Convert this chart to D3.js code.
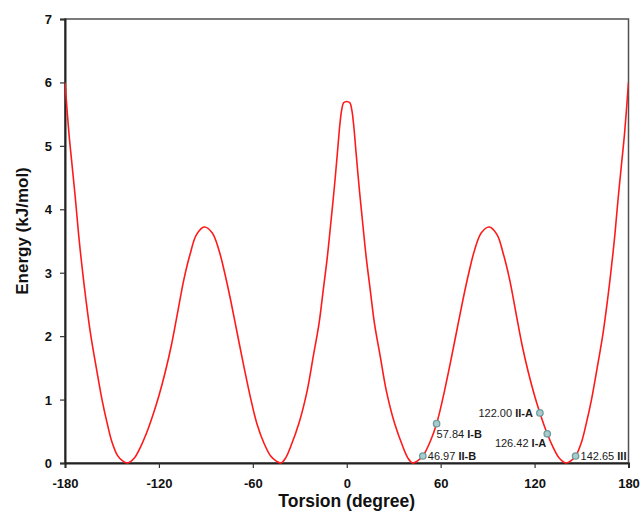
<!DOCTYPE html>
<html>
<head>
<meta charset="utf-8">
<script src="https://cdn.jsdelivr.net/npm/d3@7"></script>
<style>
  body { margin: 0; background: #fff; }
  svg { font-family: Arial, "Liberation Sans", sans-serif; }
</style>
</head>
<body>
<script>
let torsion = [-180,-177.5,-175.5,-173.3,-171.3,-169.1,-166.5,-163.7,-160,-156.3,-153,-150,-146.5,-143.5,-140,-136,-132,-128.1,-123.4,-120,-116,-112,-108,-104,-100,-96,-91,-86,-81.7,-78,-74.2,-70,-65.7,-61.5,-57.4,-53,-48.6,-45,-42,-39,-35.8,-30.5,-25.2,-21.4,-17.7,-15,-12.4,-10.2,-8.1,-6,-4.3,-3.2,-2,
               0,2,3.2,4.3,6,8.1,10.2,12.4,15,17.7,21.4,25.2,30.5,35.8,39,42,45,48.6,53,57.4,61.5,65.7,70,74.2,78,81.7,86,91,96,100,104,108,112,116,120,123.4,128.1,132,136,140,143.5,146.5,150,153,156.3,160,163.7,166.5,169.1,171.3,173.3,175.5,177.5,180];
let energy = [6.0,5.2,4.7,4.15,3.6,3.09,2.55,2.04,1.5,0.99,0.62,0.33,0.12,0.04,0,0.07,0.24,0.46,0.79,1.06,1.43,1.86,2.38,2.9,3.3,3.6,3.72,3.63,3.36,3.0,2.57,2.05,1.52,1.03,0.62,0.32,0.11,0.03,0,0.08,0.26,0.63,1.15,1.68,2.2,2.73,3.25,3.78,4.3,4.88,5.36,5.57,5.68,
              5.7,5.68,5.57,5.36,4.88,4.3,3.78,3.25,2.73,2.2,1.68,1.15,0.63,0.26,0.08,0,0.03,0.11,0.32,0.62,1.03,1.52,2.05,2.57,3.0,3.36,3.63,3.72,3.6,3.3,2.9,2.38,1.86,1.43,1.06,0.79,0.46,0.24,0.07,0,0.04,0.12,0.33,0.62,0.99,1.5,2.04,2.55,3.09,3.6,4.15,4.7,5.2,6.0];

// marked conformers
let markX = [48.6,57.4,123.4,128.1,146.2];
let markE = [0.11,0.62,0.79,0.46,0.11];
let markNum = ["46.97","57.84","122.00","126.42","142.65"];
let markForm = ["II-B","I-B","II-A","I-A","III"];
let markPos = ["right","below","left","belowleft","right"];

let xTicks = [-180,-120,-60,0,60,120,180];
let yTicks = [0,1,2,3,4,5,6,7];

let width = 640, height = 513;
let plotL = 65, plotR = 628.5, plotT = 19, plotB = 463;

let x = d3.scaleLinear().domain([-180,180]).range([plotL,plotR]);
let y = d3.scaleLinear().domain([0,7]).range([plotB,plotT]);

let svg = d3.select("body").append("svg").attr("width",width).attr("height",height);

svg.append("clipPath").attr("id","clip")
      .append("rect")
      .attr("x",plotL).attr("y",plotT)
      .attr("width",plotR-plotL).attr("height",plotB-plotT+1);

// frame
svg.append("rect")
      .attr("x",plotL).attr("y",plotT)
      .attr("width",plotR-plotL).attr("height",plotB-plotT)
      .attr("fill","none")
      .attr("stroke","#505050")
      .attr("stroke-width","1.5");

let xAxis = d3.axisBottom(x).tickValues(xTicks).tickSize(5).tickPadding(8).tickFormat(d => String(d));
let yAxis = d3.axisLeft(y).tickValues(yTicks).tickSize(5).tickPadding(8).tickFormat(d => String(d));

let gx = svg.append("g").attr("transform","translate(0,"+plotB+")").call(xAxis);
let gy = svg.append("g").attr("transform","translate("+plotL+",0)").call(yAxis);

[gx,gy].forEach(g => {
  g.select(".domain").attr("stroke","#222").attr("stroke-width","2");
  g.selectAll(".tick line").attr("stroke","#333").attr("stroke-width","1.2");
  g.selectAll(".tick text")
      .attr("font-family","Arial, 'Liberation Sans', sans-serif")
      .attr("font-size","13")
      .attr("font-weight","bold")
      .attr("fill","#111");
});
gx.selectAll(".tick text").attr("dy","0.9em");
gy.selectAll(".tick text").attr("dy","0.35em");

let pts = torsion.map((t,i) => [t,energy[i]]);
let line = d3.line()
      .x(d => x(d[0]))
      .y(d => y(d[1]))
      .curve(d3.curveCatmullRom.alpha(0.5));

svg.append("path")
      .datum(pts)
      .attr("d",line)
      .attr("clip-path","url(#clip)")
      .attr("fill","none")
      .attr("stroke","#ff1a1a")
      .attr("stroke-width","1.6");

svg.selectAll("circle.mark")
      .data(markX)
      .enter().append("circle")
                .attr("class","mark")
                .attr("cx",d => x(d))
                .attr("cy",(d,i) => y(markE[i]))
                .attr("r",3.2)
                .attr("fill","#a9cbcc")
                .attr("stroke","#6e9b9d")
                .attr("stroke-width","1.3");

let offs = {
  right: [5,4,"start"],
  below: [0,14,"start"],
  left: [-7,4,"end"],
  belowleft: [-1,13,"end"]
};

let labels = svg.selectAll("text.mark")
      .data(markX)
      .enter().append("text")
                .attr("class","mark")
                .attr("x",(d,i) => x(d)+offs[markPos[i]][0])
                .attr("y",(d,i) => y(markE[i])+offs[markPos[i]][1])
                .attr("text-anchor",(d,i) => offs[markPos[i]][2])
                .attr("font-size","11")
                .attr("fill","#1a1a1a");
labels.append("tspan").text((d,i) => markNum[i]+" ");
labels.append("tspan").attr("font-weight","bold").text((d,i) => markForm[i]);

svg.append("text")
      .attr("x",(plotL+plotR)/2)
      .attr("y",507)
      .attr("text-anchor","middle")
      .attr("font-size","17.5")
      .attr("font-weight","bold")
      .attr("fill","#111")
      .text("Torsion (degree)");

svg.append("text")
      .attr("transform","translate(28,231) rotate(-90)")
      .attr("text-anchor","middle")
      .attr("font-size","17")
      .attr("font-weight","bold")
      .attr("fill","#111")
      .text("Energy (kJ/mol)");
</script>
</body>
</html>
